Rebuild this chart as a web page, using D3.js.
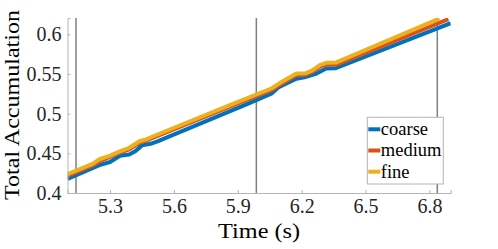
<!DOCTYPE html>
<html>
<head>
<meta charset="utf-8">
<script src="https://cdn.jsdelivr.net/npm/d3@7"></script>
<style>
    body { margin: 0; background: #fff; }
    svg { display: block; font-family: 'Liberation Serif', 'Times New Roman', serif; }
</style>
</head>
<body>
<svg class="chart" width="498" height="249"></svg>
<script>
const seriesNames = ['coarse', 'medium', 'fine'];
const seriesColors = ['#0072bd', '#d95319', '#edb120'];

const coarseTime = [5.10, 5.22, 5.25, 5.30, 5.346, 5.39, 5.42, 5.45, 5.49, 5.52, 5.96, 6.06, 6.09, 6.175, 6.22, 6.27, 6.315, 6.36, 6.90];
const coarseValue = [0.4177, 0.4315, 0.4352, 0.4390, 0.4470, 0.4485, 0.4530, 0.4600, 0.4620, 0.4648, 0.5138, 0.5255, 0.5330, 0.5440, 0.5462, 0.5505, 0.5568, 0.5572, 0.6140];

const mediumTime = [5.10, 5.22, 5.255, 5.30, 5.346, 5.39, 5.44, 5.47, 5.50, 5.86, 6.06, 6.095, 6.175, 6.22, 6.25, 6.285, 6.315, 6.36, 6.889];
const mediumValue = [0.4215, 0.4350, 0.4405, 0.4455, 0.4510, 0.4550, 0.4635, 0.4660, 0.4695, 0.5085, 0.5300, 0.5360, 0.5485, 0.5490, 0.5525, 0.5590, 0.5618, 0.5615, 0.6190];

const fineTime = [5.10, 5.22, 5.25, 5.30, 5.346, 5.39, 5.44, 5.47, 5.50, 5.86, 6.06, 6.095, 6.175, 6.22, 6.25, 6.285, 6.315, 6.36, 6.847];
const fineValue = [0.4236, 0.4370, 0.4425, 0.4470, 0.4525, 0.4570, 0.4655, 0.4675, 0.4712, 0.5105, 0.5320, 0.5382, 0.5505, 0.5510, 0.5545, 0.5612, 0.5640, 0.5643, 0.6198];

const markerTimes = [5.14, 5.987, 6.837];
const xTicks = [5.3, 5.6, 5.9, 6.2, 6.5, 6.8];
const yTicks = [0.4, 0.45, 0.5, 0.55, 0.6];
const xDomain = [5.1, 6.9];
const yDomain = [0.4, 0.6205];

const margin = { left: 67.5, right: 47.3, top: 18, bottom: 56 };
const serif = "'Liberation Serif', 'Times New Roman', serif";

const fetchChart = () => d3.select('.chart');

const buildSeries = () => [
    { name: seriesNames[0], color: seriesColors[0], points: coarseTime.map((t, i) => [t, coarseValue[i]]) },
    { name: seriesNames[1], color: seriesColors[1], points: mediumTime.map((t, i) => [t, mediumValue[i]]) },
    { name: seriesNames[2], color: seriesColors[2], points: fineTime.map((t, i) => [t, fineValue[i]]) },
];

const drawChart = () => {
    const svg = fetchChart();
    const width = +svg.attr('width');
    const height = +svg.attr('height');
    const plotW = width - margin.left - margin.right;
    const plotH = height - margin.top - margin.bottom;

    const xs = d3.scaleLinear().domain(xDomain).range([0, plotW]);
    const ys = d3.scaleLinear().domain(yDomain).range([plotH, 0]);

    const plot = svg.append('g').attr('transform', `translate(${margin.left},${margin.top})`);

    plot.append('clipPath').attr('id', 'plot-clip')
        .append('rect').attr('width', plotW).attr('height', plotH);

    // vertical marker lines
    plot.append('g')
        .selectAll('line')
        .data(markerTimes)
        .enter()
        .append('line')
        .attr('x1', d => xs(d)).attr('x2', d => xs(d))
        .attr('y1', 0).attr('y2', plotH)
        .attr('stroke', '#7f7f7f')
        .attr('stroke-width', 1.5);

    const line = d3.line().x(d => xs(d[0])).y(d => ys(d[1]));
    plot.append('g')
        .attr('clip-path', 'url(#plot-clip)')
        .selectAll('path')
        .data(buildSeries())
        .enter()
        .append('path')
        .attr('d', d => line(d.points))
        .attr('fill', 'none')
        .attr('stroke', d => d.color)
        .attr('stroke-width', 4)
        .attr('stroke-linejoin', 'round');

    // axes (MATLAB style: ticks pointing in)
    const xAxis = plot.append('g')
        .attr('transform', `translate(0,${plotH})`)
        .call(d3.axisBottom(xs).tickValues(xTicks).tickSize(-3).tickPadding(8).tickFormat(d3.format('.1f')));
    const yAxis = plot.append('g')
        .call(d3.axisLeft(ys).tickValues(yTicks).tickSize(-3).tickPadding(6).tickFormat(d => String(d)));

    [xAxis, yAxis].forEach(axis => {
        axis.attr('font-family', serif).attr('font-size', 20);
        axis.select('.domain').attr('stroke', '#b5b5b5').attr('stroke-width', 1);
        axis.selectAll('.tick line').attr('stroke', '#b5b5b5');
        axis.selectAll('.tick text')
            .attr('fill', '#262626')
            .attr('font-family', serif)
            .style('font-family', serif)
            .style('font-size', '20px');
    });
    xAxis.selectAll('.tick text').attr('dy', '0.71em').attr('y', 6);

    // legend
    const legend = plot.append('g').attr('transform', `translate(${367.3 - margin.left},${117.3 - margin.top})`);
    legend.append('rect')
        .attr('width', 76).attr('height', 66.7)
        .attr('fill', '#fff')
        .attr('stroke', '#b5b5b5')
        .attr('stroke-width', 1);
    const items = legend.selectAll('.item')
        .data(buildSeries())
        .enter()
        .append('g')
        .attr('transform', (d, i) => `translate(0,${12 + i * 21.2})`);
    items.append('line')
        .attr('x1', 1).attr('x2', 13)
        .attr('stroke', d => d.color)
        .attr('stroke-width', 4);
    items.append('text')
        .attr('x', 13.5)
        .attr('dy', '0.32em')
        .attr('fill', '#000')
        .style('font-size', '18.5px')
        .text(d => d.name);

    svg.append('text')
        .attr('x', margin.left + plotW / 2)
        .attr('y', 238.3)
        .attr('text-anchor', 'middle')
        .attr('textLength', 82)
        .attr('lengthAdjust', 'spacingAndGlyphs')
        .style('font-size', '22px')
        .text('Time (s)');

    svg.append('g')
        .attr('transform', `translate(19.3,105)`)
        .append('text')
        .attr('text-anchor', 'middle')
        .attr('transform', 'rotate(-90)')
        .attr('textLength', 190)
        .attr('lengthAdjust', 'spacingAndGlyphs')
        .style('font-size', '22px')
        .text('Total Accumulation');
};

drawChart();
</script>
</body>
</html>
